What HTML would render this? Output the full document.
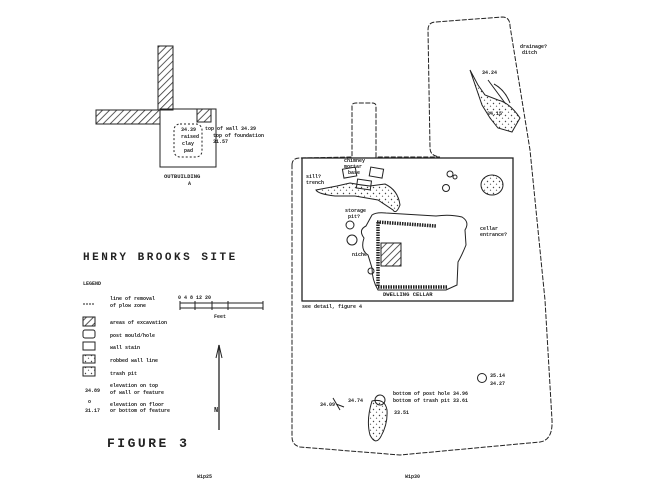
<!DOCTYPE html>
<html><head><meta charset="utf-8"><style>
html,body{margin:0;padding:0;background:#fff}
svg{display:block}
text{font-family:"Liberation Mono",monospace;font-weight:bold;fill:#222}
</style></head><body>
<svg width="667" height="500" viewBox="0 0 667 500" xmlns="http://www.w3.org/2000/svg">
<defs>
<pattern id="h" width="5" height="5" patternUnits="userSpaceOnUse" patternTransform="rotate(45)">
<rect width="5" height="5" fill="#fff"/><line x1="0" y1="0" x2="0" y2="5" stroke="#333" stroke-width="1.6"/>
</pattern>
<pattern id="d" width="6" height="6" patternUnits="userSpaceOnUse">
<rect width="6" height="6" fill="#fff"/><circle cx="1.5" cy="1.5" r="0.7" fill="#444"/><circle cx="4.5" cy="4.2" r="0.6" fill="#555"/>
</pattern>
</defs>
<g fill="none" stroke="#222" stroke-width="1">
<!-- outbuilding -->
<rect x="158" y="46" width="15" height="64" fill="url(#h)"/>
<rect x="96" y="110" width="64" height="14" fill="url(#h)"/>
<rect x="160" y="109" width="56" height="58"/>
<rect x="197" y="109" width="14" height="13" fill="url(#h)"/>
<rect x="174" y="124" width="28" height="33" rx="6" stroke-dasharray="2,2"/>
<!-- big site outline -->
<path d="M292,165 Q292,158 300,158 L352,157 L352,106 Q352,103 356,103 L372,103 Q376,103 376,106 L376,157 L440,157 Q430,156 430,148 L428,30 Q428,22 436,22 L502,17 Q510,17 510,26 L530,150 L545,300 L552,420 Q553,440 540,442 L400,455 L300,447 Q292,445 292,437 Z" stroke-dasharray="5,1.5"/>
<!-- dwelling rect -->
<rect x="302" y="158" width="211" height="143" stroke-width="1.3"/>
<!-- cellar outline -->
<path d="M372,215 Q376,212 386,213 L436,216 Q450,214 462,217 Q470,222 465,230 L466,245 Q462,255 458,262 L457,285 L446,290 L378,290 Q372,280 372,268 L368,255 Q360,250 364,238 Q358,230 366,226 Z"/>
<path d="M377,222 L436,226" stroke-width="3.5" stroke-dasharray="1.5,1"/>
<path d="M378,222 L378,287 L448,287" stroke-width="3.5" stroke-dasharray="1.5,1"/>
<rect x="381" y="243" width="20" height="23" fill="url(#h)"/>
<!-- features in dwelling -->
<path d="M337,186 L350,183 Q360,185 370,186 L385,184 Q398,190 400,205 Q396,215 393,210 L378,200 L355,196 L335,196 Q318,194 316,190 Z" fill="url(#d)"/>
<rect x="357" y="180" width="14" height="9" transform="rotate(8 364 184)"/>
<rect x="343" y="168" width="13" height="9" transform="rotate(-10 350 172)"/>
<rect x="370" y="168" width="13" height="9" transform="rotate(10 376 172)"/>
<ellipse cx="492" cy="185" rx="11" ry="10" fill="url(#d)"/>
<circle cx="446" cy="188" r="3.5"/><circle cx="450" cy="174" r="3"/><circle cx="455" cy="177" r="2"/>
<circle cx="350" cy="225" r="4"/><circle cx="352" cy="240" r="5"/><circle cx="371" cy="271" r="3"/>
<!-- drainage ditch -->
<path d="M470,70 L478,85 L485,95 L498,100 Q510,103 520,118 L512,132 L498,128 L490,118 L482,105 Z" fill="url(#d)"/>
<path d="M488,80 L505,103 M494,84 Q505,90 510,103"/>
<!-- bottom features -->
<path d="M372,401 Q385,398 387,410 Q388,425 380,438 Q375,445 370,435 Q366,420 372,401 Z" fill="url(#d)"/>
<circle cx="380" cy="400" r="5"/>
<circle cx="482" cy="378" r="4.5"/>
<path d="M333,398 L340,410 M336,404 L344,407" />
<!-- legend boxes -->
<rect x="83" y="317" width="12" height="9" fill="url(#h)"/>
<rect x="83" y="330" width="12" height="8" rx="2"/>
<rect x="83" y="342" width="12" height="8"/>
<rect x="83" y="355" width="12" height="8" fill="url(#d)"/>
<rect x="83" y="367" width="12" height="9" fill="url(#d)"/>
<line x1="83" y1="304" x2="95" y2="304" stroke-dasharray="2,1"/>
<!-- scale -->
<path d="M180,303 L263,303 M180,308 L263,308 M180,301 L180,310 M195,301 L195,310 M212,301 L212,310 M228,301 L228,310 M263,301 L263,310"/>
<!-- north arrow -->
<line x1="219" y1="345" x2="219" y2="430" stroke-width="1.3"/>
<path d="M216,358 L219,345 L222,358"/>
</g>
<g font-size="5">
<text x="205" y="130">top of wall 34.39</text>
<text x="213" y="137">top of foundation</text>
<text x="213" y="143">31.57</text>
<text x="181" y="131">34.39</text>
<text x="181" y="138">raised</text>
<text x="182" y="145">clay</text>
<text x="184" y="152">pad</text>
<text x="164" y="178" font-size="5.5">OUTBUILDING</text>
<text x="188" y="185">A</text>
<text x="344" y="162">chimney</text>
<text x="344" y="168">mortar</text>
<text x="348" y="174">base</text>
<text x="306" y="178">sill?</text>
<text x="306" y="184">trench</text>
<text x="345" y="212">storage</text>
<text x="348" y="218">pit?</text>
<text x="480" y="230">cellar</text>
<text x="480" y="236">entrance?</text>
<text x="352" y="256">niche</text>
<text x="383" y="296" font-size="5.5">DWELLING CELLAR</text>
<text x="302" y="308">see detail, figure 4</text>
<text x="520" y="48">drainage?</text>
<text x="522" y="54">ditch</text>
<text x="482" y="74">34.24</text>
<text x="487" y="115">34.15</text>
<text x="393" y="395">bottom of post hole 34.96</text>
<text x="393" y="402">bottom of trash pit 33.61</text>
<text x="394" y="414">33.51</text>
<text x="490" y="377">35.14</text>
<text x="490" y="385">34.27</text>
<text x="320" y="406">34.09</text>
<text x="348" y="402">34.74</text>
<text x="405" y="478">W1p30</text>
<text x="197" y="478">W1p25</text>
<text x="110" y="300">line of removal</text>
<text x="110" y="307">of plow zone</text>
<text x="110" y="324">areas of excavation</text>
<text x="110" y="337">post mould/hole</text>
<text x="110" y="349">wall stain</text>
<text x="110" y="362">robbed wall line</text>
<text x="110" y="375">trash pit</text>
<text x="110" y="387">elevation on top</text>
<text x="110" y="394">of wall or feature</text>
<text x="85" y="392">34.89</text>
<text x="110" y="406">elevation on floor</text>
<text x="110" y="412">or bottom of feature</text>
<text x="85" y="412">31.17</text>
<text x="88" y="403">o</text>
<text x="83" y="285">LEGEND</text>
<text x="178" y="299">0  4  8  12    20</text>
<text x="214" y="318">Feet</text>
<text x="214" y="412" font-size="7">N</text>
</g>
<text x="83" y="260" font-family="Liberation Sans,sans-serif" font-size="11" font-weight="bold" letter-spacing="2.5">HENRY BROOKS SITE</text>
<text x="107" y="447" font-family="Liberation Sans,sans-serif" font-size="13" font-weight="bold" letter-spacing="2.5">FIGURE 3</text>
</svg>
</body></html>
